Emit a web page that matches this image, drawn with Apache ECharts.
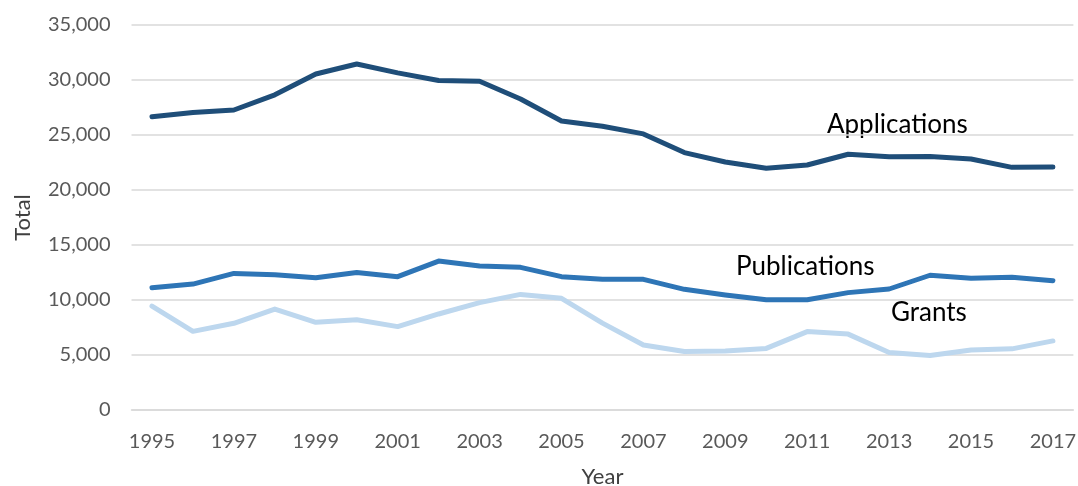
<!DOCTYPE html>
<html>
<head>
<meta charset="utf-8">
<script src="https://cdn.jsdelivr.net/npm/echarts@6/dist/echarts.min.js"></script>
<style>
  html, body { margin: 0; padding: 0; background: #fff; }
  #chart { width: 1078px; height: 486px; }
</style>
</head>
<body>
<div id="chart"></div>
<script>
const years = ['1995','1996','1997','1998','1999','2000','2001','2002','2003','2004','2005','2006',
               '2007','2008','2009','2010','2011','2012','2013','2014','2015','2016','2017'];
const applications = [26650, 27050, 27270, 28650, 30550, 31450, 30650, 29950, 29880, 28270, 26270, 25800,
                      25100, 23400, 22550, 21970, 22270, 23250, 23030, 23050, 22820, 22060, 22080];
const publications = [11120, 11450, 12420, 12300, 12030, 12500, 12120, 13540, 13090, 12970, 12120, 11880,
                      11880, 10970, 10460, 10020, 10030, 10670, 11000, 12250, 11970, 12060, 11760];
const grants = [9450, 7150, 7880, 9180, 7970, 8200, 7580, 8730, 9760, 10510, 10150, 7900,
                5910, 5320, 5370, 5600, 7130, 6900, 5230, 4950, 5450, 5560, 6280];

const FONT = 'Lato, "Liberation Sans", sans-serif';
const chart = echarts.init(document.getElementById('chart'), null, { renderer: 'canvas' });

function line(name, data, color) {
  return {
    name, type: 'line', data,
    symbol: 'none',
    lineStyle: { color, width: 5, cap: 'round', join: 'round' },
    itemStyle: { color },
    z: 3
  };
}

chart.setOption({
  animation: false,
  backgroundColor: '#ffffff',
  textStyle: { fontFamily: FONT },
  grid: { left: 131.5, right: 4.6, top: 25, bottom: 76, containLabel: false, outerBoundsMode: 'none' },
  xAxis: {
    type: 'category',
    data: years,
    boundaryGap: true,
    name: 'Year',
    nameLocation: 'middle',
    nameGap: 56,
    nameTextStyle: { fontSize: 22, color: '#404040', fontFamily: FONT },
    axisLine: { show: true, lineStyle: { color: '#D9D9D9', width: 1.5 } },
    axisTick: { show: false },
    axisLabel: { interval: 1, margin: 22, fontSize: 20, color: '#595959', fontFamily: FONT }
  },
  yAxis: {
    type: 'value',
    min: 0, max: 35000, interval: 5000,
    name: 'Total',
    nameLocation: 'middle',
    nameGap: 98,
    nameTextStyle: { fontSize: 22, color: '#404040', fontFamily: FONT },
    axisLine: { show: false },
    axisTick: { show: false },
    axisLabel: {
      margin: 21, fontSize: 20, color: '#595959', fontFamily: FONT,
      formatter: v => v.toLocaleString('en-US')
    },
    splitLine: { lineStyle: { color: '#D9D9D9', width: 1.5 } }
  },
  series: [
    line('Grants', grants, '#BDD7EE'),
    line('Publications', publications, '#2E75B6'),
    line('Applications', applications, '#1F4E79')
  ],
  graphic: [
    { type: 'text', left: 827, top: 112, style: { text: 'Applications', font: '26px ' + FONT, fill: '#000' } },
    { type: 'text', left: 736, top: 254, style: { text: 'Publications', font: '26px ' + FONT, fill: '#000' } },
    { type: 'text', left: 891, top: 300, style: { text: 'Grants', font: '26px ' + FONT, fill: '#000' } }
  ]
});
</script>
</body>
</html>
